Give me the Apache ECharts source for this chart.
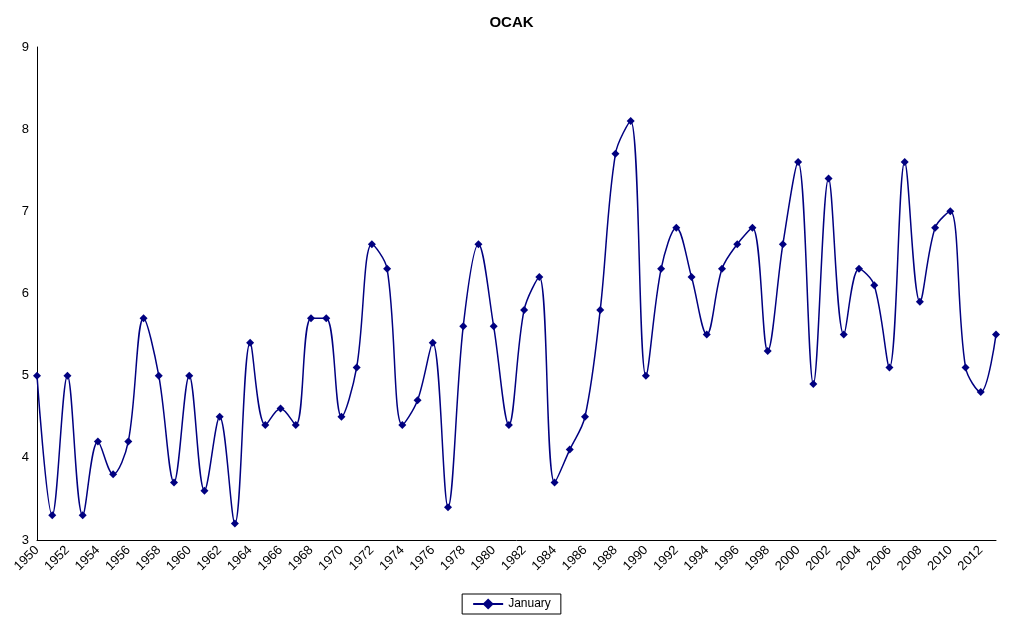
<!DOCTYPE html>
<html>
<head>
<meta charset="utf-8">
<script src="https://cdn.jsdelivr.net/npm/echarts@6/dist/echarts.min.js"></script>
<style>html,body{margin:0;padding:0;background:#fff}#chart{width:1023px;height:624px}</style>
</head>
<body>
<div id="chart"></div>
<script>
(function() {
    const years = [];
    for (let y = 1950; y <= 2013; y++) years.push(String(y));

    const january = [
        5.0, 3.3, 5.0, 3.3, 4.2, 3.8, 4.2, 5.7, 5.0, 3.7,
        5.0, 3.6, 4.5, 3.2, 5.4, 4.4, 4.6, 4.4, 5.7, 5.7,
        4.5, 5.1, 6.6, 6.3, 4.4, 4.7, 5.4, 3.4, 5.6, 6.6,
        5.6, 4.4, 5.8, 6.2, 3.7, 4.1, 4.5, 5.8, 7.7, 8.1,
        5.0, 6.3, 6.8, 6.2, 5.5, 6.3, 6.6, 6.8, 5.3, 6.6,
        7.6, 4.9, 7.4, 5.5, 6.3, 6.1, 5.1, 7.6, 5.9, 6.8,
        7.0, 5.1, 4.8, 5.5
    ];

    const chart = echarts.init(document.getElementById('chart'));

    const option = {
        animation: false,
        title: {
            text: 'OCAK',
            left: 'center',
            top: 10,
            textStyle: { fontFamily: 'Liberation Sans', fontSize: 15, fontWeight: 'bold', color: '#000' }
        },
        legend: {
            bottom: 10,
            left: 'center',
            borderColor: '#000',
            borderWidth: 1,
            borderRadius: 0,
            padding: [4, 10],
            itemWidth: 30,
            textStyle: { fontFamily: 'Liberation Sans', fontSize: 12, color: '#000' },
            data: ['January']
        },
        grid: { left: 37, right: 27, top: 47, bottom: 84 },
        xAxis: {
            type: 'category',
            boundaryGap: false,
            data: years,
            axisLine: { lineStyle: { color: '#000' } },
            axisTick: { show: false },
            axisLabel: {
                interval: 1,
                rotate: 45,
                color: '#000',
                fontFamily: 'Liberation Sans',
                fontSize: 13
            },
            splitLine: { show: false }
        },
        yAxis: {
            type: 'value',
            min: 3,
            max: 9,
            interval: 1,
            axisLine: { show: true, lineStyle: { color: '#000' } },
            axisTick: { show: false },
            axisLabel: { color: '#000', fontFamily: 'Liberation Sans', fontSize: 13 },
            splitLine: { show: false }
        },
        series: [{
            name: 'January',
            type: 'line',
            smooth: 0.35,
            symbol: 'diamond',
            symbolSize: 8,
            color: '#000080',
            lineStyle: { width: 1.5, color: '#000080' },
            data: january
        }]
    };

    chart.setOption(option);
})();
</script>
</body>
</html>
